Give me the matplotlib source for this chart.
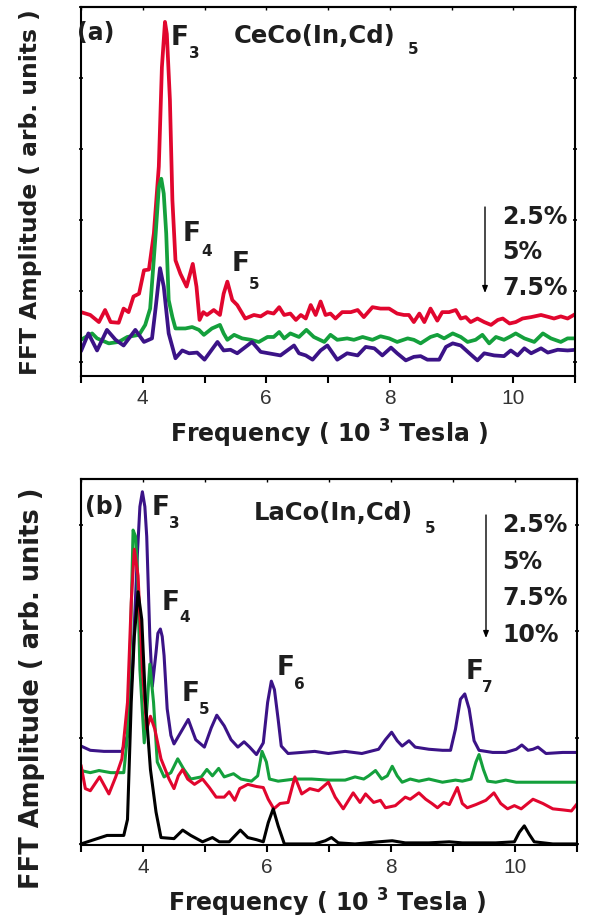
import numpy as np
import matplotlib
matplotlib.use("Agg")
import matplotlib.pyplot as plt
from matplotlib.ticker import MultipleLocator

plt.rcParams['font.family'] = ['Liberation Sans', 'DejaVu Sans']
plt.rcParams['mathtext.fontset'] = 'custom'
plt.rcParams['mathtext.rm'] = 'DejaVu Sans:bold'
plt.rcParams['mathtext.it'] = 'DejaVu Sans:bold'
plt.rcParams['mathtext.bf'] = 'DejaVu Sans:bold'

###########################################################
#          Panel (a): CeCo(In,Cd)5        #
###########################################################
a_red_f = [3.00, 3.15, 3.29, 3.39, 3.48, 3.61, 3.69, 3.77, 3.85, 3.94, 4.02, 4.10, 4.18, 4.26, 4.31,
           4.36, 4.39, 4.44, 4.48, 4.53, 4.61, 4.71, 4.81, 4.87, 4.92, 4.98, 5.04, 5.15, 5.25, 5.31,
           5.37, 5.45, 5.53, 5.66, 5.80, 5.91, 6.02, 6.12, 6.21, 6.29, 6.39, 6.48, 6.56, 6.64, 6.72,
           6.80, 6.88, 6.96, 7.04, 7.12, 7.23, 7.37, 7.48, 7.58, 7.72, 7.85, 7.99, 8.12, 8.23, 8.31,
           8.39, 8.48, 8.56, 8.66, 8.77, 8.85, 8.96, 9.07, 9.15, 9.23, 9.31, 9.42, 9.53, 9.64, 9.75,
           9.83, 9.94, 10.04, 10.15, 10.29, 10.45, 10.58, 10.66, 10.77, 10.88, 11.02]
a_red_y = [0.70, 0.66, 0.56, 0.73, 0.56, 0.55, 0.75, 0.70, 0.92, 0.96, 1.29, 1.30, 1.81, 2.75, 4.15,
           4.79, 4.62, 3.69, 2.28, 1.43, 1.24, 1.06, 1.38, 1.06, 0.59, 0.70, 0.66, 0.73, 0.66, 0.96,
           1.13, 0.87, 0.80, 0.61, 0.66, 0.64, 0.70, 0.68, 0.77, 0.66, 0.68, 0.59, 0.66, 0.61, 0.80,
           0.66, 0.85, 0.66, 0.68, 0.61, 0.70, 0.70, 0.73, 0.63, 0.77, 0.75, 0.75, 0.68, 0.66, 0.66,
           0.56, 0.68, 0.56, 0.75, 0.58, 0.70, 0.70, 0.73, 0.61, 0.63, 0.56, 0.61, 0.56, 0.52, 0.59,
           0.61, 0.54, 0.56, 0.61, 0.63, 0.66, 0.63, 0.61, 0.64, 0.61, 0.68]

a_grn_f = [3.00, 3.18, 3.26, 3.45, 3.61, 3.75, 3.94, 4.04, 4.12, 4.21, 4.26, 4.30, 4.34, 4.38, 4.42,
           4.48, 4.53, 4.69, 4.80, 4.91, 4.99, 5.12, 5.25, 5.31, 5.37, 5.48, 5.61, 5.75, 5.88, 6.02,
           6.12, 6.21, 6.29, 6.39, 6.53, 6.65, 6.77, 6.94, 7.04, 7.15, 7.31, 7.42, 7.56, 7.72, 7.85,
           7.99, 8.12, 8.29, 8.39, 8.50, 8.66, 8.77, 8.88, 9.02, 9.15, 9.26, 9.39, 9.50, 9.61, 9.72,
           9.85, 9.96, 10.04, 10.18, 10.34, 10.48, 10.61, 10.77, 10.88, 11.02]
a_grn_y = [0.31, 0.40, 0.33, 0.26, 0.28, 0.35, 0.38, 0.52, 0.75, 1.81, 2.46, 2.58, 2.37, 1.81, 0.87,
           0.63, 0.47, 0.47, 0.49, 0.45, 0.38, 0.47, 0.52, 0.40, 0.31, 0.38, 0.33, 0.31, 0.28, 0.35,
           0.35, 0.42, 0.33, 0.40, 0.35, 0.45, 0.35, 0.28, 0.38, 0.31, 0.33, 0.31, 0.35, 0.31, 0.36,
           0.33, 0.28, 0.33, 0.31, 0.26, 0.35, 0.38, 0.33, 0.40, 0.35, 0.28, 0.31, 0.38, 0.26, 0.35,
           0.31, 0.36, 0.40, 0.33, 0.28, 0.40, 0.33, 0.28, 0.33, 0.33]

a_pur_f = [3.00, 3.12, 3.26, 3.42, 3.56, 3.69, 3.88, 4.02, 4.15, 4.21, 4.28, 4.34, 4.42, 4.53, 4.64,
           4.75, 4.88, 5.00, 5.21, 5.31, 5.42, 5.53, 5.77, 5.91, 6.23, 6.45, 6.53, 6.64, 6.75, 6.88,
           6.99, 7.15, 7.31, 7.48, 7.61, 7.75, 7.88, 8.02, 8.12, 8.26, 8.39, 8.50, 8.61, 8.80, 8.91,
           9.02, 9.15, 9.29, 9.42, 9.53, 9.69, 9.85, 9.96, 10.07, 10.18, 10.29, 10.45, 10.56, 10.72,
           10.88, 11.02]
a_pur_y = [0.15, 0.40, 0.16, 0.45, 0.31, 0.23, 0.45, 0.28, 0.33, 0.77, 1.32, 1.06, 0.40, 0.05, 0.16,
           0.12, 0.13, 0.03, 0.28, 0.16, 0.17, 0.12, 0.28, 0.14, 0.09, 0.23, 0.12, 0.09, 0.03, 0.16,
           0.23, 0.03, 0.12, 0.09, 0.21, 0.19, 0.09, 0.20, 0.12, 0.02, 0.07, 0.08, 0.03, 0.03, 0.21,
           0.26, 0.23, 0.12, 0.02, 0.12, 0.09, 0.08, 0.16, 0.09, 0.19, 0.12, 0.19, 0.13, 0.17,
           0.16, 0.17]

###########################################################
#          Panel (b): LaCo(In,Cd)5        #
###########################################################
b_pur_f = [3.00, 3.15, 3.37, 3.66, 3.75, 3.83, 3.91, 3.95, 3.99, 4.03, 4.06, 4.11, 4.15, 4.21, 4.24,
           4.28, 4.31, 4.34, 4.39, 4.45, 4.50, 4.61, 4.73, 4.85, 4.99, 5.10, 5.19, 5.31, 5.42, 5.53,
           5.63, 5.72, 5.83, 5.94, 6.01, 6.07, 6.12, 6.18, 6.23, 6.34, 6.56, 6.77, 6.99, 7.26, 7.53,
           7.80, 7.91, 8.01, 8.10, 8.18, 8.29, 8.39, 8.61, 8.83, 8.96, 9.04, 9.12, 9.19, 9.26, 9.34,
           9.42, 9.64, 9.85, 10.02, 10.11, 10.21, 10.29, 10.37, 10.50, 10.77, 11.02]
b_pur_y = [0.92, 0.88, 0.87, 0.87, 1.02, 1.64, 2.73, 3.17, 3.31, 3.17, 2.89, 1.95, 1.48, 1.80, 1.98,
           2.02, 1.95, 1.77, 1.27, 1.02, 0.94, 1.05, 1.17, 0.98, 0.91, 1.09, 1.21, 1.11, 0.98, 0.91,
           0.96, 0.91, 0.84, 0.95, 1.33, 1.53, 1.45, 1.17, 0.92, 0.85, 0.86, 0.87, 0.85, 0.87, 0.85,
           0.89, 0.98, 1.05, 0.97, 0.92, 0.97, 0.91, 0.89, 0.88, 0.88, 1.08, 1.36, 1.41, 1.27, 0.97,
           0.88, 0.86, 0.86, 0.89, 0.93, 0.88, 0.89, 0.91, 0.85, 0.86, 0.86]

b_grn_f = [3.00, 3.15, 3.29, 3.48, 3.69, 3.75, 3.80, 3.84, 3.88, 3.91, 3.95, 4.02, 4.07, 4.11, 4.17,
           4.23, 4.34, 4.45, 4.56, 4.66, 4.77, 4.94, 5.03, 5.12, 5.22, 5.31, 5.46, 5.58, 5.75, 5.85,
           5.92, 5.99, 6.04, 6.18, 6.45, 6.72, 6.99, 7.26, 7.42, 7.56, 7.64, 7.75, 7.85, 7.94, 8.02,
           8.10, 8.18, 8.31, 8.45, 8.61, 8.83, 9.04, 9.15, 9.29, 9.37, 9.42, 9.49, 9.56, 9.69, 9.85,
           10.02, 10.23, 10.50, 10.77, 11.02]
b_grn_y = [0.69, 0.67, 0.69, 0.67, 0.67, 1.02, 1.95, 2.95, 2.89, 2.58, 1.64, 0.95, 1.33, 1.69, 1.33,
           0.77, 0.63, 0.67, 0.80, 0.70, 0.61, 0.63, 0.70, 0.64, 0.71, 0.63, 0.66, 0.61, 0.59, 0.64,
           0.87, 0.77, 0.61, 0.59, 0.61, 0.61, 0.60, 0.60, 0.63, 0.61, 0.64, 0.69, 0.61, 0.64, 0.73,
           0.64, 0.58, 0.61, 0.59, 0.61, 0.58, 0.60, 0.59, 0.61, 0.77, 0.84, 0.70, 0.59, 0.58, 0.60,
           0.58, 0.58, 0.58, 0.58, 0.58]

b_red_f = [3.00, 3.07, 3.15, 3.30, 3.45, 3.56, 3.66, 3.75, 3.81, 3.86, 3.92, 3.99, 4.06, 4.12, 4.19,
           4.29, 4.42, 4.50, 4.57, 4.64, 4.72, 4.83, 4.96, 5.07, 5.18, 5.31, 5.39, 5.48, 5.56, 5.69,
           5.83, 5.94, 6.02, 6.11, 6.21, 6.34, 6.45, 6.56, 6.69, 6.83, 6.99, 7.10, 7.23, 7.39, 7.50,
           7.59, 7.72, 7.83, 7.91, 8.07, 8.23, 8.31, 8.45, 8.56, 8.66, 8.75, 8.85, 8.94, 9.07, 9.15,
           9.23, 9.37, 9.53, 9.66, 9.77, 9.88, 9.99, 10.10, 10.29, 10.45, 10.61, 10.77, 10.91, 11.02]
b_red_y = [0.74, 0.52, 0.50, 0.63, 0.47, 0.63, 0.80, 1.33, 2.27, 2.77, 2.52, 1.64, 1.08, 1.20, 1.08,
           0.80, 0.61, 0.52, 0.64, 0.70, 0.61, 0.56, 0.61, 0.53, 0.44, 0.44, 0.49, 0.41, 0.52, 0.56,
           0.54, 0.53, 0.42, 0.33, 0.38, 0.39, 0.63, 0.47, 0.52, 0.50, 0.58, 0.44, 0.33, 0.48, 0.39,
           0.47, 0.39, 0.41, 0.34, 0.36, 0.44, 0.42, 0.48, 0.42, 0.38, 0.34, 0.39, 0.37, 0.53, 0.38,
           0.34, 0.37, 0.41, 0.48, 0.38, 0.33, 0.36, 0.33, 0.42, 0.38, 0.33, 0.32, 0.31, 0.39]

b_blk_f = [3.00, 3.21, 3.42, 3.69, 3.75, 3.81, 3.86, 3.92, 3.98, 4.04, 4.12, 4.21, 4.29, 4.50, 4.64,
           4.77, 4.96, 5.12, 5.23, 5.39, 5.57, 5.69, 5.83, 5.94, 6.02, 6.10, 6.18, 6.28, 6.45, 6.77,
           6.94, 7.04, 7.15, 7.42, 7.80, 8.02, 8.23, 8.61, 8.94, 9.15, 9.69, 9.99, 10.07, 10.15,
           10.23, 10.31, 10.61, 11.02]
b_blk_y = [0.00, 0.04, 0.08, 0.08, 0.23, 1.33, 1.95, 2.37, 2.11, 1.33, 0.70, 0.30, 0.06, 0.05, 0.13,
           0.08, 0.02, 0.06, 0.02, 0.02, 0.13, 0.06, 0.04, 0.02, 0.20, 0.33, 0.17, 0.00, 0.00, 0.00,
           0.03, 0.06, 0.01, 0.00, 0.02, 0.03, 0.01, 0.01, 0.02, 0.01, 0.01, 0.02, 0.11, 0.17,
           0.09, 0.02, 0.00, 0.00]

labels_a = ["2.5%", "5%", "7.5%"]
labels_b = ["2.5%", "5%", "7.5%", "10%"]

RED = '#e1062e'
GRN = '#14a03c'
PUR = '#3b1387'
BLK = '#000000'
TXT = '#1e1e1e'
BOLD = ['DejaVu Sans']

W, H = 589, 922
fig = plt.figure(figsize=(W / 100, H / 100), dpi=100)


def px_axes(l, t, r, b):
    return fig.add_axes([l / W, 1 - b / H, (r - l) / W, (b - t) / H])


def ftext(px, py, s, size, **kw):
    kw.setdefault('fontweight', 'bold')
    kw.setdefault('color', TXT)
    kw.setdefault('ha', 'left')
    kw.setdefault('va', 'center')
    fig.text(px / W, 1 - py / H, s, fontsize=size, family=BOLD, **kw)


def farrow(px, py0, py1):
    fig.patches.append(matplotlib.patches.FancyArrowPatch(
        (px / W, 1 - py0 / H), (px / W, 1 - py1 / H), transform=fig.transFigure,
        arrowstyle='-|>,head_length=4,head_width=1.6', lw=1.0, color='black',
        shrinkA=0, shrinkB=0))


def style(ax, ylim, lw_sp):
    ax.set_xlim(3, 11)
    ax.set_ylim(*ylim)
    ax.xaxis.set_major_locator(MultipleLocator(2))
    ax.xaxis.set_minor_locator(MultipleLocator(1))
    ax.yaxis.set_major_locator(MultipleLocator(1))
    ax.tick_params(axis='x', which='both', direction='out', length=5, width=1.5,
                   labelsize=15, labelcolor='#333333', pad=4)
    ax.tick_params(axis='y', which='both', direction='inout', length=3, width=1.2,
                   left=True, right=True, labelleft=False)
    for sp in ax.spines.values():
        sp.set_linewidth(lw_sp)
    sec = ax.secondary_xaxis('top')
    sec.xaxis.set_major_locator(MultipleLocator(1))
    sec.tick_params(direction='in', length=2, width=1.0, labeltop=False)
    sec.spines['top'].set_linewidth(lw_sp)


# ---------------- panel (a) ----------------
ax1 = px_axes(81, 7, 575, 376)
for f, y, c in [(a_red_f, a_red_y, RED), (a_grn_f, a_grn_y, GRN), (a_pur_f, a_pur_y, PUR)]:
    ax1.plot(f, y, color=c, lw=2.7, solid_joinstyle='round', solid_capstyle='round')
style(ax1, (-0.2, 5.0), 1.5)

ftext(77, 33, "(a)", 17)
ftext(171, 38, "F", 19)
ftext(189, 53, "3", 11)
ftext(234, 36, "CeCo(In,Cd)", 17.5)
ftext(408, 50, "5", 11)
ftext(183, 234, "F", 19)
ftext(201, 251, "4", 11)
ftext(232, 264, "F", 19)
ftext(249, 284, "5", 11)
for lab, yy in zip(labels_a, [217, 252, 288]):
    ftext(502, yy, lab, 17)
farrow(485, 207, 293)
ftext(329, 434, "Frequency ( 10 $^{3}$ Tesla )", 17, ha='center')
ftext(31, 192, "FFT Amplitude ( arb. units )", 16.8, ha='center', rotation=90)

# ---------------- panel (b) ----------------
ax2 = px_axes(81, 479, 577, 845)
for f, y, c in [(b_pur_f, b_pur_y, PUR), (b_grn_f, b_grn_y, GRN),
                (b_red_f, b_red_y, RED), (b_blk_f, b_blk_y, BLK)]:
    ax2.plot(f, y, color=c, lw=2.2, solid_joinstyle='round', solid_capstyle='round')
style(ax2, (-0.01, 3.43), 1.5)

ftext(85, 507, "(b)", 17)
ftext(152, 508, "F", 19)
ftext(169, 524, "3", 11)
ftext(254, 513, "LaCo(In,Cd)", 17.5)
ftext(425, 528, "5", 11)
ftext(162, 603, "F", 19)
ftext(179, 618, "4", 11)
ftext(182, 694, "F", 19)
ftext(199, 710, "5", 11)
ftext(277, 668, "F", 19)
ftext(294, 684, "6", 11)
ftext(466, 672, "F", 19)
ftext(482, 687, "7", 11)
for lab, yy in zip(labels_b, [525, 562, 598, 635]):
    ftext(502, yy, lab, 17)
farrow(486, 515, 638)
ftext(327, 903, "Frequency ( 10 $^{3}$ Tesla )", 17, ha='center')
ftext(32, 688, "FFT Amplitude ( arb. units )", 18.5, ha='center', rotation=90)

fig.savefig("out.png", dpi=100)
